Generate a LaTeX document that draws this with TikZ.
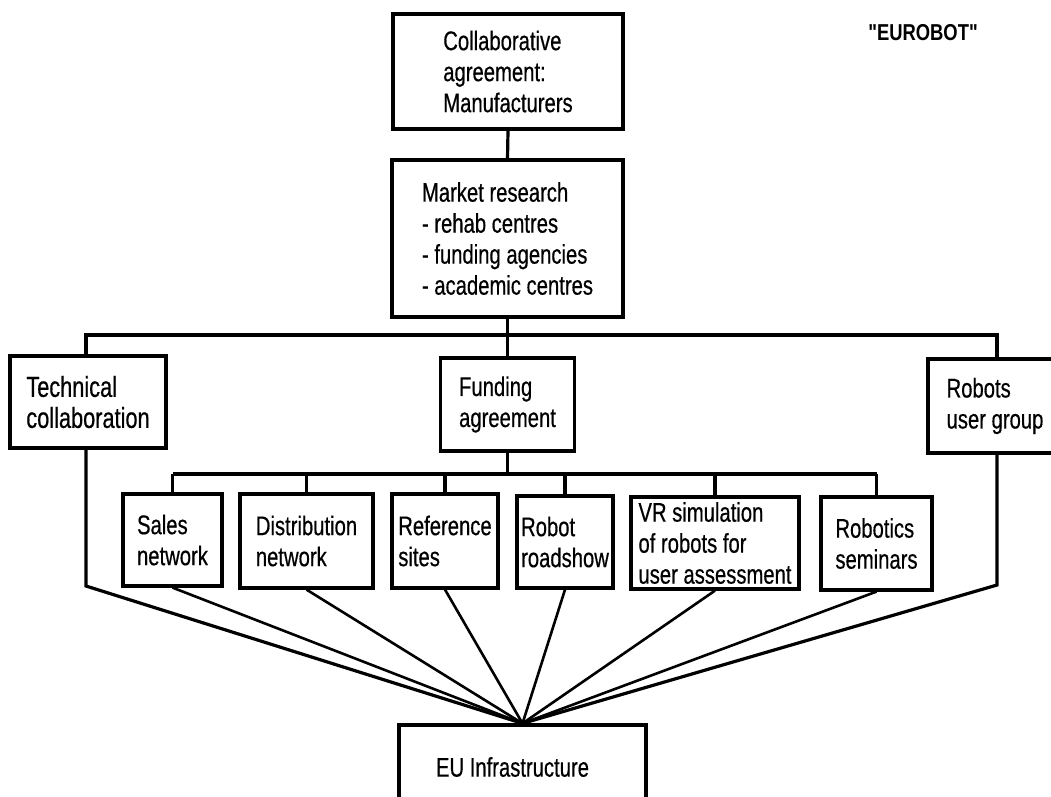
\documentclass[tikz,border=0pt]{standalone}
\usepackage{fontspec}
\setmainfont{Liberation Sans}[FakeStretch=0.75, UprightFeatures={FakeBold=0.5}]
\newfontfamily\titlefont{Liberation Sans Bold}[Ligatures=TeXOff, FakeStretch=0.8]
\begin{document}
\begin{tikzpicture}[x=1pt,y=-1pt,
  box/.style={draw, line width=3.2pt, align=left, inner sep=0pt, font=\fontsize{27}{31}\selectfont},
  conn/.style={line width=3.2pt},
  ray/.style={line width=2.6pt}]
\useasboundingbox (0,0) rectangle (1051,796);
\clip (0,0) rectangle (1051,796);
\fill[white] (0,0) rectangle (1051,796);

\node[box, minimum width=230pt, minimum height=115pt] (top) at (508,71.5) {Collaborative\\agreement:\\Manufacturers};
\node[box, minimum width=231pt, minimum height=157pt] (market) at (507.5,238.5) {Market research\\- rehab centres\\- funding agencies\\- academic centres};
\node[box, minimum width=156pt, minimum height=92pt, font=\fontsize{29}{31}\selectfont] (tech) at (88,402) {Technical\\collaboration};
\node[box, minimum width=134pt, minimum height=93pt] (funding) at (507.5,404.5) {Funding\\agreement};
\node[box, minimum width=134pt, minimum height=94pt] (robots) at (995,406) {Robots\\user group};

\node[box, minimum width=99pt, minimum height=92pt] (sales) at (172.5,540) {Sales\\network};
\node[box, minimum width=133pt, minimum height=94pt] (dist) at (306.5,541) {Distribution\\network};
\node[box, minimum width=106pt, minimum height=94pt] (ref) at (445,541) {Reference\\sites};
\node[box, minimum width=96pt, minimum height=92pt] (road) at (565,542) {Robot\\roadshow};
\node[box, minimum width=168pt, minimum height=92pt] (vr) at (715,543) {VR simulation\\of robots for\\user assessment};
\node[box, minimum width=111pt, minimum height=93pt] (sem) at (876.5,543.5) {Robotics\\seminars};

\node[box, minimum width=247pt, minimum height=84pt] (eu) at (522.5,767) {\hspace*{-20pt}EU Infrastructure};

\node[font=\titlefont\fontsize{23}{26}\selectfont, inner sep=0pt] (title) at (923,33) {"EUROBOT"};

% top connectors
\draw[conn] (top.south) -- (market.north);
\draw[conn] (market.south) -- (funding.north);
\coordinate (busL) at (86,335);
\coordinate (busR) at (997,335);
\draw[conn] (busL |- tech.north) -- (busL) -- (busR) -- (busR |- robots.north);

% second bus
\coordinate (b2) at (0,474);
\draw[conn] (sales.north |- b2) -- (sem.north |- b2);
\draw[conn] (funding.south) -- (funding.south |- b2);
\foreach \n in {sales,dist,ref,road,vr,sem}
  \draw[conn] (\n.north) -- (\n.north |- b2);

% rays to EU
\coordinate (tl) at (86,586);
\coordinate (rl) at (997,585);
\draw[conn] (busL |- tech.south) -- (tl) -- (eu.north);
\draw[conn] (busR |- robots.south) -- (rl) -- (eu.north);
\foreach \n in {sales,dist,ref,road,vr,sem}
  \draw[ray] (\n.south) -- (eu.north);
\end{tikzpicture}
\end{document}
